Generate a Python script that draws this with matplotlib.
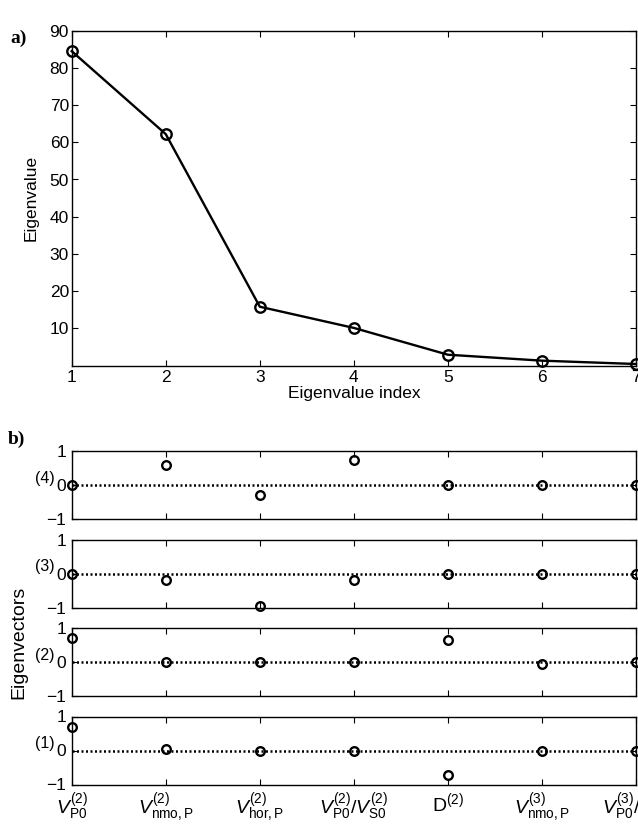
import numpy as np
import matplotlib
matplotlib.use('Agg')
import matplotlib.pyplot as plt

matplotlib.rcParams['font.family'] = ['Liberation Sans', 'DejaVu Sans']
matplotlib.rcParams['mathtext.fontset'] = 'custom'
matplotlib.rcParams['mathtext.rm'] = 'Liberation Sans'
matplotlib.rcParams['mathtext.it'] = 'Liberation Sans:italic'
matplotlib.rcParams['mathtext.bf'] = 'Liberation Sans:bold'

# eigenvalues (panel a)
eig_index = [1, 2, 3, 4, 5, 6, 7]
eig_values = [84.5, 62.2, 15.8, 10.1, 2.9, 1.3, 0.4]

# eigenvectors (panel b), one list per eigenvector
vec_1 = [0.69, 0.03, 0.0, 0.0, -0.72, 0.0, 0.0]
vec_2 = [0.71, 0.0, 0.0, 0.0, 0.66, -0.05, 0.0]
vec_3 = [0.0, -0.19, -0.95, -0.19, 0.0, 0.0, 0.0]
vec_4 = [0.0, 0.58, -0.28, 0.74, 0.0, 0.0, 0.0]
vec_names = ['(4)', '(3)', '(2)', '(1)']

param_labels = [r'$V^{\mathit{(2)}}_{\mathrm{P0}}$',
                r'$V^{\mathit{(2)}}_{\mathrm{nmo,P}}$',
                r'$V^{\mathit{(2)}}_{\mathrm{hor,P}}$',
                r'$V^{\mathit{(2)}}_{\mathrm{P0}}/V^{\mathit{(2)}}_{\mathrm{S0}}$',
                r'$\mathrm{D}^{(2)}$',
                r'$V^{\mathit{(3)}}_{\mathrm{nmo,P}}$',
                r'$V^{\mathit{(3)}}_{\mathrm{P0}}/V^{\mathit{(3)}}_{\mathrm{S0}}$']

W, H = 638, 826
fig = plt.figure(figsize=(W/100, H/100), dpi=100)

def frac(left, top, right, bottom):
    return [left/W, 1-bottom/H, (right-left)/W, (bottom-top)/H]

x0, x1 = 71.7, 636
fs = 12.5

################################################################################
# a) eigenvalues
ax = fig.add_axes(frac(x0, 30.7, x1, 365.5))
ax.plot(eig_index, eig_values, 'o-', c='black', linewidth=1.7,
        markersize=7.5, markerfacecolor='none', markeredgewidth=1.7, clip_on=False)
ax.set_xlim(1, 7)
ax.set_ylim(0, 90)
ax.set_xticks(eig_index)
ax.set_yticks(np.arange(10, 100, 10))
ax.tick_params(direction='in', top=True, right=True, length=4, width=0.8, labelsize=fs)
ax.tick_params(axis='x', pad=3)
ax.tick_params(axis='y', pad=2)
for s in ax.spines.values():
    s.set_linewidth(1.0)
ax.set_xlabel('Eigenvalue index', fontsize=fs, labelpad=1)
ax.set_ylabel('Eigenvalue', fontsize=fs)
ax.yaxis.set_label_coords(-0.058, 0.5)

fig.text(10/W, 1-38/H, 'a)', fontsize=14, fontweight='bold', family='Liberation Serif', va='center')
fig.text(8/W, 1-439/H, 'b)', fontsize=14, fontweight='bold', family='Liberation Serif', va='center')

################################################################################
# b) eigenvectors
tops = [451, 539.5, 628, 716.5]
vectors = [vec_4, vec_3, vec_2, vec_1]
for k in range(4):
    ax = fig.add_axes(frac(x0, tops[k], x1, tops[k] + 68))
    ax.plot([1, 7], [0, 0], c='black', linewidth=1.8, linestyle=(0, (0.8, 1.0)))
    ax.plot(eig_index, vectors[k], 'o', c='black', markersize=6.2,
            markerfacecolor='none', markeredgewidth=1.7, clip_on=False, zorder=3)
    ax.set_xlim(1, 7)
    ax.set_ylim(-1, 1)
    ax.set_xticks(eig_index)
    ax.set_yticks([-1, 0, 1])
    ax.set_yticklabels(['\u22121', '0', '1'])
    ax.tick_params(direction='in', top=True, right=True, length=4, width=0.8, labelsize=fs)
    ax.tick_params(axis='y', pad=4)
    for s in ax.spines.values():
        s.set_linewidth(1.0)
    if k < 3:
        ax.set_xticklabels([])
    else:
        ax.set_xticklabels(param_labels, fontsize=14)
        ax.tick_params(axis='x', pad=5)
    ax.text(-0.03, 0.6, vec_names[k], transform=ax.transAxes, ha='right', va='center', fontsize=11.5)

fig.text(19/W, 1-642/H, 'Eigenvectors', rotation=90, ha='center', va='center', fontsize=14)

plt.savefig('out.png', dpi=100)
